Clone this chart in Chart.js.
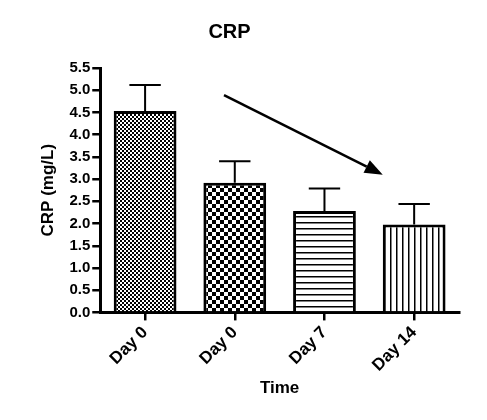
<!DOCTYPE html>
<html lang="en">
<head>
  <meta charset="UTF-8">
  <title>CRP</title>
  <script src="https://cdn.jsdelivr.net/npm/chart.js"></script>
  <style>
    html, body { margin: 0; padding: 0; background: #fff; }
  </style>
</head>
<body>
  <canvas id="crpChart" width="487" height="420"></canvas>
  <script>
    // Data
    const categories = ['Day 0', 'Day 0', 'Day 7', 'Day 14'];
    const crpMeans = [4.53, 2.92, 2.28, 1.98];
    const crpErrors = [0.59, 0.48, 0.51, 0.46];
    const yMin = 0;
    const yMax = 5.5;
    const yStep = 0.5;

    // trend arrow, in (category index, value) units
    const arrowFrom = [0.88, 4.89];
    const arrowTo = [2.65, 3.10];

    const FONT = '"Liberation Sans", Arial, sans-serif';

    // Fill patterns for each bar
    function makePattern(kind) {
      const c = document.createElement('canvas');
      const g = c.getContext('2d');
      if (kind === 'fineCheck') {
        c.width = 4; c.height = 4;
        g.fillStyle = '#fff'; g.fillRect(0, 0, 4, 4);
        g.fillStyle = '#000';
        g.fillRect(0, 0, 2, 2); g.fillRect(2, 2, 2, 2);
      } else if (kind === 'check') {
        c.width = 8; c.height = 8;
        g.fillStyle = '#fff'; g.fillRect(0, 0, 8, 8);
        g.fillStyle = '#000';
        g.fillRect(0, 0, 4, 4); g.fillRect(4, 4, 4, 4);
      } else if (kind === 'hLines') {
        c.width = 6; c.height = 6;
        g.fillStyle = '#fff'; g.fillRect(0, 0, 6, 6);
        g.fillStyle = '#000'; g.fillRect(0, 0, 6, 1.5);
      } else {
        c.width = 6; c.height = 6;
        g.fillStyle = '#fff'; g.fillRect(0, 0, 6, 6);
        g.fillStyle = '#000'; g.fillRect(0, 0, 1.5, 6);
      }
      return g.createPattern(c, 'repeat');
    }
    const barFills = ['fineCheck', 'check', 'hLines', 'vLines'].map(makePattern);

    // SEM bars (upper half only, as in the original)
    const errorBars = {
      id: 'errorBars',
      afterDatasetsDraw(chart) {
        const ctx = chart.ctx;
        const yScale = chart.scales.y;
        const meta = chart.getDatasetMeta(0);
        ctx.save();
        ctx.strokeStyle = '#000';
        ctx.lineWidth = 2;
        meta.data.forEach((bar, i) => {
          const top = yScale.getPixelForValue(crpMeans[i] + crpErrors[i]);
          const half = bar.width / 4;
          ctx.beginPath();
          ctx.moveTo(bar.x, bar.y);
          ctx.lineTo(bar.x, top);
          ctx.moveTo(bar.x - half, top);
          ctx.lineTo(bar.x + half, top);
          ctx.stroke();
        });
        ctx.restore();
      }
    };

    const trendArrow = {
      id: 'trendArrow',
      afterDatasetsDraw(chart) {
        const ctx = chart.ctx;
        const xs = chart.scales.x, ys = chart.scales.y;
        const x1 = xs.getPixelForValue(arrowFrom[0]), y1 = ys.getPixelForValue(arrowFrom[1]);
        const x2 = xs.getPixelForValue(arrowTo[0]), y2 = ys.getPixelForValue(arrowTo[1]);
        const ang = Math.atan2(y2 - y1, x2 - x1);
        const headLen = 18, headW = 7;
        const bx = x2 - headLen * Math.cos(ang), by = y2 - headLen * Math.sin(ang);
        ctx.save();
        ctx.strokeStyle = '#000';
        ctx.fillStyle = '#000';
        ctx.lineWidth = 2.5;
        ctx.beginPath();
        ctx.moveTo(x1, y1);
        ctx.lineTo(bx, by);
        ctx.stroke();
        ctx.beginPath();
        ctx.moveTo(x2, y2);
        ctx.lineTo(bx + headW * Math.sin(ang), by - headW * Math.cos(ang));
        ctx.lineTo(bx - headW * Math.sin(ang), by + headW * Math.cos(ang));
        ctx.closePath();
        ctx.fill();
        ctx.restore();
      }
    };

    new Chart(document.getElementById('crpChart'), {
      type: 'bar',
      data: {
        labels: categories,
        datasets: [{
          data: crpMeans,
          backgroundColor: barFills,
          borderColor: '#000',
          borderWidth: 3,
          borderSkipped: 'start',
          categoryPercentage: 1,
          barPercentage: 0.7
        }]
      },
      options: {
        responsive: false,
        animation: false,
        layout: { padding: { left: 0, right: 28, top: 0, bottom: 0 } },
        plugins: {
          legend: { display: false },
          tooltip: { enabled: false },
          title: {
            display: true,
            text: 'CRP',
            color: '#000',
            font: { family: FONT, size: 20, weight: 'bold' },
            padding: { top: 20, bottom: 24 }
          }
        },
        scales: {
          x: {
            grid: {
              display: true,
              drawOnChartArea: false,
              offset: false,
              color: '#000',
              lineWidth: 2.5,
              tickLength: 8
            },
            border: { display: true, color: '#000', width: 3 },
            ticks: {
              color: '#000',
              font: { family: FONT, size: 17, weight: 'bold' },
              minRotation: 45,
              maxRotation: 45,
              padding: 2
            },
            title: {
              display: true,
              text: 'Time',
              color: '#000',
              font: { family: FONT, size: 17, weight: 'bold' },
              padding: { top: 1, bottom: 21 }
            }
          },
          y: {
            min: yMin,
            max: yMax,
            grid: {
              display: true,
              drawOnChartArea: false,
              color: '#000',
              lineWidth: 2.5,
              tickLength: 8
            },
            border: { display: true, color: '#000', width: 3 },
            ticks: {
              stepSize: yStep,
              color: '#000',
              font: { family: FONT, size: 15, weight: 'bold' },
              padding: 2,
              callback: v => Number(v).toFixed(1)
            },
            title: {
              display: true,
              text: 'CRP (mg/L)',
              color: '#000',
              font: { family: FONT, size: 17, weight: 'bold' },
              padding: { top: 38, bottom: 9 }
            }
          }
        }
      },
      plugins: [errorBars, trendArrow]
    });
  </script>
</body>
</html>
